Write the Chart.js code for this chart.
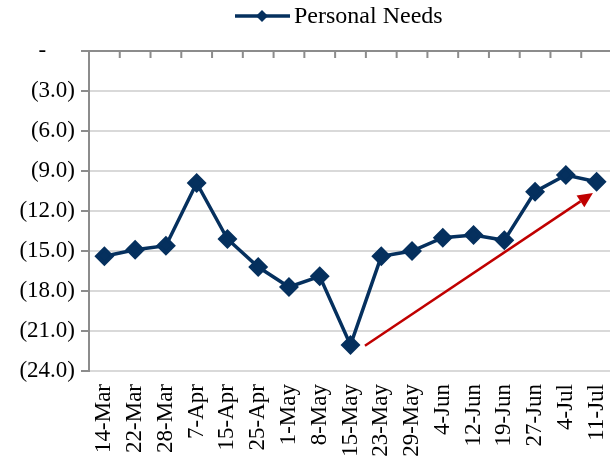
<!DOCTYPE html>
<html><head><meta charset="utf-8">
<script src="https://cdn.jsdelivr.net/npm/chart.js@4.4.0/dist/chart.umd.min.js"></script>
<style>html,body{margin:0;padding:0;overflow:hidden;background:#fff}#wrap{width:623px;height:463px;position:relative}</style>
</head><body><div id="wrap"><canvas id="c"></canvas></div>
<script>
const categories = ['14-Mar','22-Mar','28-Mar','7-Apr','15-Apr','25-Apr','1-May','8-May','15-May','23-May','29-May','4-Jun','12-Jun','19-Jun','27-Jun','4-Jul','11-Jul'];
const personalNeeds = [-15.4,-14.9,-14.6,-9.9,-14.1,-16.2,-17.7,-16.9,-22.05,-15.4,-15.0,-14.0,-13.8,-14.2,-10.55,-9.3,-9.8];
const seriesName = 'Personal Needs';
const yMin = -24, yMax = 0, yStep = 3;
const arrowFrom = [8.47, -22.1];
const arrowTo = [15.88, -10.65];

const NAVY = '#05305e';
const FONT = "'Liberation Serif', 'Times New Roman', serif";

const decor = {
  id: 'decor',
  afterDatasetsDraw(chart) {
    const ctx = chart.ctx, xs = chart.scales.x, ys = chart.scales.y, a = chart.chartArea;
    ctx.save();
    const y0 = ys.getPixelForValue(0);
    ctx.strokeStyle = '#8c8c8c'; ctx.lineWidth = 2;
    ctx.beginPath(); ctx.moveTo(a.left, y0); ctx.lineTo(a.right, y0); ctx.stroke();
    const n = categories.length, w = (a.right - a.left) / n;
    ctx.beginPath();
    for (let i = 0; i <= n; i++) { const x = a.left + i * w; ctx.moveTo(x, y0 - 1); ctx.lineTo(x, y0 + 7); }
    ctx.stroke();
    const x1 = xs.getPixelForValue(arrowFrom[0]), y1 = ys.getPixelForValue(arrowFrom[1]);
    const x2 = xs.getPixelForValue(arrowTo[0]), y2 = ys.getPixelForValue(arrowTo[1]);
    const ang = Math.atan2(y2 - y1, x2 - x1), hl = 15, hw = 7;
    const bx = x2 - hl * Math.cos(ang), by = y2 - hl * Math.sin(ang);
    ctx.strokeStyle = '#c00000'; ctx.fillStyle = '#c00000'; ctx.lineWidth = 2.5;
    ctx.beginPath(); ctx.moveTo(x1, y1); ctx.lineTo(bx, by); ctx.stroke();
    ctx.beginPath(); ctx.moveTo(x2, y2);
    ctx.lineTo(bx + hw * Math.sin(ang), by - hw * Math.cos(ang));
    ctx.lineTo(bx - hw * Math.sin(ang), by + hw * Math.cos(ang));
    ctx.closePath(); ctx.fill();
    const ly = 16;
    ctx.strokeStyle = NAVY; ctx.lineWidth = 3.5;
    ctx.beginPath(); ctx.moveTo(235, ly); ctx.lineTo(290, ly); ctx.stroke();
    ctx.fillStyle = NAVY; ctx.beginPath();
    ctx.moveTo(262, ly - 6); ctx.lineTo(268, ly); ctx.lineTo(262, ly + 6); ctx.lineTo(256, ly); ctx.closePath(); ctx.fill();
    ctx.fillStyle = '#000'; ctx.font = "24px " + FONT; ctx.textBaseline = 'middle'; ctx.textAlign = 'left';
    ctx.fillText(seriesName, 294, ly + 1);
    ctx.restore();
  }
};

new Chart(document.getElementById('c'), {
  type: 'line',
  data: { labels: categories, datasets: [{
    label: seriesName, data: personalNeeds, borderColor: NAVY, backgroundColor: NAVY,
    borderWidth: 3.5, tension: 0, pointStyle: 'rectRot', pointRadius: 7.5, pointHoverRadius: 7.5
  }]},
  options: {
    responsive: true, maintainAspectRatio: false, animation: false,
    layout: { padding: { top: 51, left: 0, right: 0, bottom: 0 } },
    plugins: { legend: { display: false }, tooltip: { enabled: false } },
    scales: {
      x: {
        offset: true,
        grid: { display: false }, border: { display: false },
        ticks: { autoSkip: false, maxRotation: 90, minRotation: 90, padding: 5, color: '#000', font: { family: FONT, size: 23 } },
        afterFit(s) { s.height = 92; s.paddingLeft = 0; s.paddingRight = 0; }
      },
      y: {
        min: yMin, max: yMax,
        grid: { color: '#d9d9d9', lineWidth: 2, tickColor: '#8c8c8c', tickLength: 8 },
        border: { display: true, color: '#8c8c8c', width: 2 },
        ticks: { stepSize: yStep, padding: 6, color: '#000', font: { family: FONT, size: 23 },
          callback: v => v === 0 ? '-     ' : '(' + Math.abs(v).toFixed(1) + ')' },
        afterFit(s) { s.width = 89; }
      }
    }
  },
  plugins: [decor]
});
</script></body></html>
